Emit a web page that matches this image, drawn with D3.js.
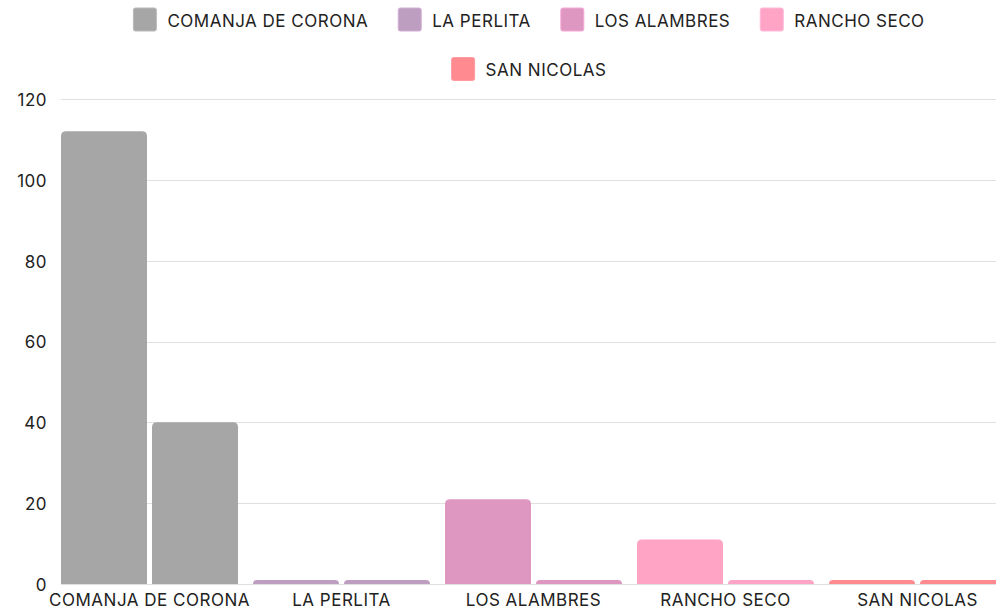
<!DOCTYPE html>
<html>
<head>
<meta charset="utf-8">
<script src="https://cdn.jsdelivr.net/npm/d3@7"></script>
<style>
  body { margin: 0; background: #fff; }
  svg { display: block; font-family: Inter, "Noto Sans", sans-serif; }
  svg text { letter-spacing: 0.5px; }
</style>
</head>
<body>
<div id="chart"></div>
<script>
// data
var categories = ["COMANJA DE CORONA", "LA PERLITA", "LOS ALAMBRES", "RANCHO SECO", "SAN NICOLAS"];
var seriesA = [112, 1, 21, 11, 1];
var seriesB = [40, 1, 1, 1, 1];
var yTicks = [0, 20, 40, 60, 80, 100, 120];
var colors = ["#a6a6a6", "#bd9dc0", "#de97c0", "#ffa4c5", "#ff8a90"];

var W = 996, H = 611;
var fontSize = 17;
var svg = d3.select("#chart").append("svg")
	.attr("width", W)
	.attr("height", H);

var plotLeft = 61, plotBottom = 584, plotTop = 99;

// band per category, two bars inside
var x0 = d3.scaleBand()
	.domain(categories)
	.range([plotLeft, 1006])
	.paddingInner(15 / 192)
	.paddingOuter(0);

var x1 = d3.scaleBand()
	.domain([0, 1])
	.range([0, x0.bandwidth()])
	.paddingInner(5 / 91);

var y = d3.scaleLinear()
	.domain([0, 120])
	.range([plotBottom, plotTop]);

var color = d3.scaleOrdinal().domain(categories).range(colors);

// grid
svg.append("g")
	.selectAll("line")
	.data(yTicks)
	.enter()
	.append("line")
	.attr("x1", plotLeft)
	.attr("x2", W)
	.attr("y1", function (d) { return Math.round(y(d)) + 0.5; })
	.attr("y2", function (d) { return Math.round(y(d)) + 0.5; })
	.attr("stroke", "#e0e0e0")
	.attr("stroke-width", 1);

// y axis labels
var yAxis = svg.append("g")
	.attr("transform", "translate(" + (plotLeft - 14) + ",1)")
	.call(d3.axisLeft(y).tickValues(yTicks).tickSize(0).tickPadding(0));
yAxis.select(".domain").remove();
yAxis.selectAll("text")
	.attr("font-size", fontSize)
	.attr("fill", "#222")
	.style("font-family", "Inter, sans-serif");

// rounded-top bar path
function barPath(x, yTop, w, h, r) {
	r = Math.min(r, h, w / 2);
	return "M" + x + "," + (yTop + h) +
		"V" + (yTop + r) +
		"Q" + x + "," + yTop + " " + (x + r) + "," + yTop +
		"H" + (x + w - r) +
		"Q" + (x + w) + "," + yTop + " " + (x + w) + "," + (yTop + r) +
		"V" + (yTop + h) + "Z";
}

var rows = [];
categories.forEach(function (c, i) {
	rows.push({ cat: c, idx: 0, value: seriesA[i] });
	rows.push({ cat: c, idx: 1, value: seriesB[i] });
});

svg.append("g")
	.selectAll("path")
	.data(rows)
	.enter()
	.append("path")
	.attr("d", function (d) {
		var bx = x0(d.cat) + x1(d.idx);
		var by = y(d.value);
		return barPath(bx, by, x1.bandwidth(), y(0) - by, 5);
	})
	.attr("fill", function (d) { return color(d.cat); });

// x axis labels
var xAxis = svg.append("g")
	.attr("transform", "translate(0," + plotBottom + ")")
	.call(d3.axisBottom(x0).tickSize(0).tickPadding(10));
xAxis.select(".domain").remove();
xAxis.selectAll("text")
	.attr("font-size", fontSize)
	.attr("fill", "#222")
	.style("font-family", "Inter, sans-serif");

// legend, wrapped and centred
var legend = svg.append("g");
var items = legend.selectAll("g")
	.data(categories)
	.enter()
	.append("g");

items.append("rect")
	.attr("width", 23)
	.attr("height", 23)
	.attr("rx", 2)
	.attr("fill", function (d) { return color(d); })
	.attr("stroke", function (d) { return d3.color(color(d)).brighter(0.3); })
	.attr("stroke-width", 1);

items.append("text")
	.attr("x", 34)
	.attr("y", 13)
	.attr("dy", "0.35em")
	.attr("font-size", fontSize)
	.attr("fill", "#222")
	.text(function (d) { return d; });

var widths = [];
items.each(function () {
	widths.push(34 + d3.select(this).select("text").node().getComputedTextLength());
});

var maxRow = 820, gap = 30, cx = 529;
var lines = [[]], cur = 0;
widths.forEach(function (w, i) {
	var add = (lines[lines.length - 1].length ? gap : 0) + w;
	if (cur + add > maxRow && lines[lines.length - 1].length) {
		lines.push([]);
		cur = 0;
		add = w;
	}
	lines[lines.length - 1].push(i);
	cur += add;
});

lines.forEach(function (line, r) {
	var total = d3.sum(line, function (i) { return widths[i]; }) + gap * (line.length - 1);
	var xx = cx - total / 2;
	line.forEach(function (i) {
		d3.select(items.nodes()[i])
			.attr("transform", "translate(" + xx + "," + (8 + r * 49.5) + ")");
		xx += widths[i] + gap;
	});
});
</script>
</body>
</html>
